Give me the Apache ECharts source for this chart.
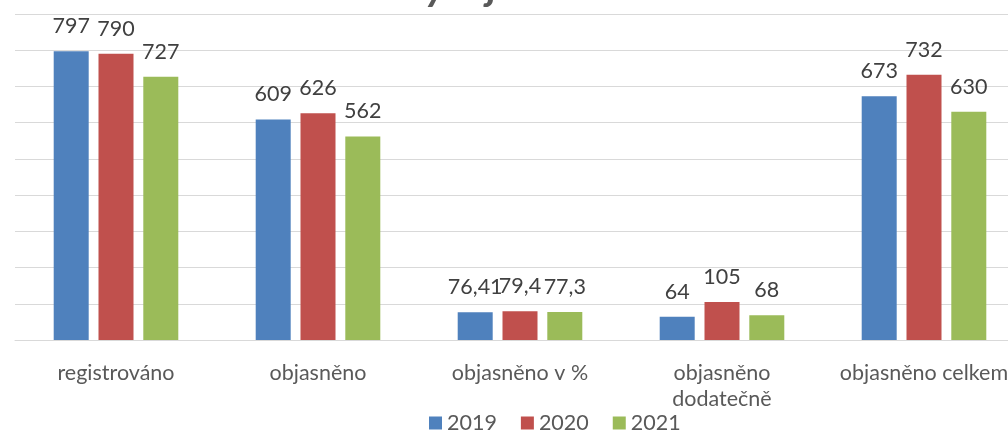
<!DOCTYPE html>
<html>
<head>
<meta charset="utf-8">
<script src="https://cdn.jsdelivr.net/npm/echarts@6/dist/echarts.min.js"></script>
<style>
  html, body { margin: 0; padding: 0; background: #fff; }
</style>
</head>
<body>
<div id="chart" style="width:1008px;height:434px;"></div>
<script>
var categories = ['registrováno', 'objasněno', 'objasněno v %', 'objasněno\ndodatečně', 'objasněno celkem'];
var seriesNames = ['2019', '2020', '2021'];
var data2019 = [797, 609, 76.41, 64, 673];
var data2020 = [790, 626, 79.4, 105, 732];
var data2021 = [727, 562, 77.3, 68, 630];
var colors = ['#4F81BD', '#C0504D', '#9BBB59'];

var font = 'Lato, "Open Sans", sans-serif';

var chart = echarts.init(document.getElementById('chart'));

function makeSeries(name, data, color) {
  return {
    name: name,
    type: 'bar',
    data: data,
    barWidth: 35,
    barGap: '28%',
    itemStyle: { color: color },
    label: {
      show: true,
      position: 'top',
      distance: 14,
      color: '#404040',
      fontSize: 21.5,
      fontFamily: font,
      formatter: function (p) {
        return String(p.value).replace('.', ',');
      }
    }
  };
}

var option = {
  animation: false,
  color: colors,
  // title sits mostly above the visible area, only descenders show
  title: {
    text: 'Vývoj trestné činnosti',
    left: 400,
    top: -34,
    padding: 0,
    textStyle: {
      fontSize: 41,
      fontWeight: 'bold',
      fontStyle: 'italic',
      color: '#595959',
      fontFamily: font
    }
  },
  grid: {
    left: 15,
    right: -17,
    top: 14,
    bottom: 94,
    containLabel: false,
    outerBoundsMode: 'none'
  },
  legend: {
    left: 429,
    top: 412,
    padding: 0,
    itemWidth: 13,
    itemHeight: 13,
    itemGap: 24,
    icon: 'rect',
    textStyle: { color: '#595959', fontSize: 21.5, fontFamily: font },
    data: seriesNames
  },
  xAxis: {
    type: 'category',
    data: categories,
    axisLine: { lineStyle: { color: '#d9d9d9', width: 1 } },
    axisTick: { show: false },
    axisLabel: {
      color: '#595959',
      fontSize: 21.5,
      fontFamily: font,
      margin: 20,
      lineHeight: 26,
      interval: 0,
      hideOverlap: false
    }
  },
  yAxis: {
    type: 'value',
    min: 0,
    max: 900,
    interval: 100,
    axisLabel: { show: false },
    axisLine: { show: false },
    axisTick: { show: false },
    splitLine: { lineStyle: { color: '#d9d9d9', width: 1 } }
  },
  series: [
    makeSeries(seriesNames[0], data2019, colors[0]),
    makeSeries(seriesNames[1], data2020, colors[1]),
    makeSeries(seriesNames[2], data2021, colors[2])
  ]
};

chart.setOption(option);
window.addEventListener('resize', function () { chart.resize(); });
</script>
</body>
</html>
